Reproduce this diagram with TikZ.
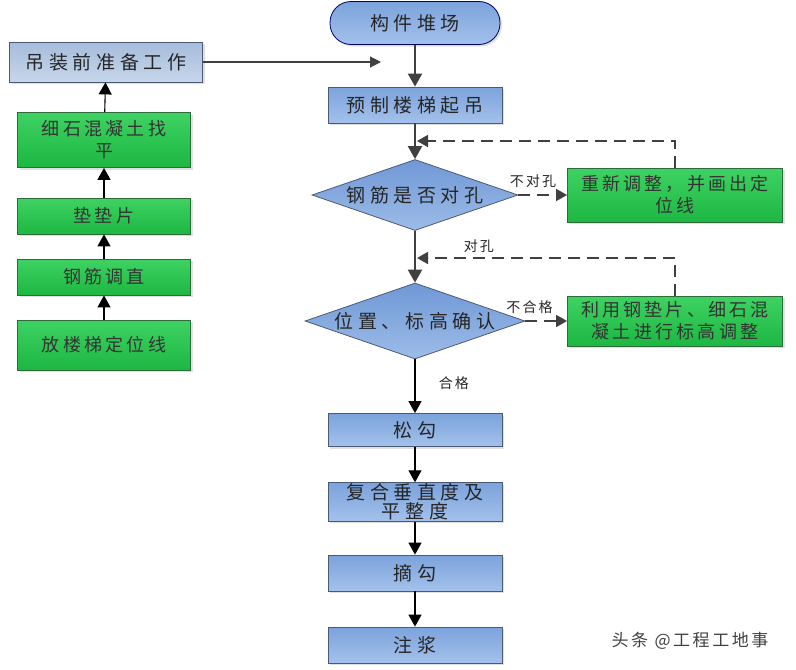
\documentclass[tikz,border=0pt]{standalone}
\usepackage{fontspec}
\newfontfamily\cjk[LetterSpace=24]{Noto Sans CJK SC}
\newfontfamily\cjkgreen[LetterSpace=18]{Noto Sans CJK SC}
\newfontfamily\cjklbl[LetterSpace=15]{Noto Sans CJK SC}
\usetikzlibrary{arrows.meta}
\usetikzlibrary{shapes.geometric}
\usetikzlibrary{shadows}

\definecolor{boxline}{HTML}{4A5A74}
\definecolor{greenline}{HTML}{2E6B3A}
\definecolor{flowgray}{HTML}{404040}
\definecolor{bluetop}{HTML}{7CA3DC}
\definecolor{bluebot}{HTML}{A3C1EB}
\definecolor{preptop}{HTML}{A6BCDB}
\definecolor{prepbot}{HTML}{C6D6EB}
\definecolor{diatop}{HTML}{6F98D6}
\definecolor{diabot}{HTML}{9DBCE8}
\definecolor{greentop}{HTML}{3ED262}
\definecolor{greenbot}{HTML}{1DB742}

\begin{document}
\begin{tikzpicture}
		[x=1pt, y=-1pt,
		 shade/.style={drop shadow={opacity=0.25, shadow xshift=2pt, shadow yshift=-2pt}},
		 bluebox/.style={rectangle, draw=boxline, thick, shade, top color=bluetop, bottom color=bluebot, minimum width=174, minimum height=36, inner sep=1pt, align=center, text=black!85, font=\cjk\fontsize{19}{20}\selectfont},
		 prepbox/.style={rectangle, draw=boxline, thick, shade, top color=preptop, bottom color=prepbot, minimum width=193, minimum height=40, text=black!85, font=\cjk\fontsize{19}{20}\selectfont},
		 greenbox/.style={rectangle, draw=greenline, thick, shade, top color=greentop, bottom color=greenbot, text=black!80, align=center, inner sep=1pt, font=\cjkgreen\fontsize{18}{22}\selectfont},
		 decide/.style={diamond, draw=boxline, thick, top color=diatop, bottom color=diabot, aspect=2.9, inner sep=0pt, text=black!85, font=\cjk\fontsize{19}{20}\selectfont},
		 flow/.style={draw=flowgray, line width=2pt, -{Triangle[length=13pt, width=14pt]}},
		 thin flow/.style={draw=black, line width=1.1pt, -{Triangle[length=12pt, width=13pt]}},
		 loop back/.style={draw=flowgray, line width=1.6pt, dash pattern=on 12pt off 7pt, -{Triangle[length=11pt, width=12pt]}},
		 lbl/.style={font=\cjklbl\fontsize{14}{16}\selectfont, text=black!85}]
		\useasboundingbox (0,0) rectangle (796,670);

		% main column
		\node[bluebox, rounded corners=21pt, draw=blue!40!black, minimum width=170, minimum height=43] (yard) at (415,23) {构件堆场};
		\node[bluebox] (lift) at (415,105) {预制楼梯起吊};
		\node[decide, minimum width=206, minimum height=71] (holes) at (415,195) {钢筋是否对孔};
		\node[decide, minimum width=220, minimum height=76] (level) at (415,321) {位置、标高确认};
		\node[bluebox, minimum height=33] (unhook) at (415,430) {松勾};
		\node[bluebox, minimum height=37, font=\cjk\fontsize{19}{19}\selectfont] (plumb) at (415,502) {复合垂直度及\\平整度};
		\node[bluebox] (remove) at (415,573) {摘勾};
		\node[bluebox] (grout) at (415,645) {注浆};

		% adjustment boxes
		\node[greenbox, minimum width=215, minimum height=54] (redo) at (675,195) {重新调整，并画出定\\位线};
		\node[greenbox, minimum width=215, minimum height=50] (shim) at (675,321) {利用钢垫片、细石混\\凝土进行标高调整};

		% preparation column
		\node[prepbox] (prep) at (106,62) {吊装前准备工作};
		\node[greenbox, minimum width=173, minimum height=55] (level bed) at (104,140) {细石混凝土找\\平};
		\node[greenbox, minimum width=173, minimum height=36] (pads) at (104,216) {垫垫片};
		\node[greenbox, minimum width=173, minimum height=36] (bars) at (104,277) {钢筋调直};
		\node[greenbox, minimum width=173, minimum height=50] (mark) at (104,345) {放楼梯定位线};

		\coordinate (prep end) at (381,62);
		\coordinate (back1) at (417,141);
		\coordinate (back2) at (417,258);

		\draw[thin flow] (mark) -- (bars);
		\draw[thin flow] (bars) -- (pads);
		\draw[thin flow] (pads) -- (level bed);
		\draw[thin flow] (level bed) -- (prep);
		\draw[draw=flowgray, line width=1.1pt, -{Triangle[length=11pt, width=11pt]}] (prep) -- (prep end);

		\draw[flow] (yard) -- (lift);
		\draw[flow] (lift) -- (holes);
		\draw[flow] (holes) -- (level);
		\draw[thin flow] (level) -- node[lbl, pos=0.45, right=20pt] {合格} (unhook);
		\draw[thin flow] (unhook) -- (plumb);
		\draw[thin flow] (plumb) -- (remove);
		\draw[thin flow] (remove) -- (grout);

		\draw[loop back] (holes.east) -- node[lbl, above=3pt, pos=0.3] {不对孔} (redo.west);
		\draw[loop back] (level.east) -- node[lbl, above=3pt, pos=0.1] {不合格} (shim.west);
		\draw[loop back] (redo.north) |- (back1);
		\draw[loop back] (shim.north) |- node[lbl, pos=0.88, above=1pt] {对孔} (back2);

		\node[font=\cjklbl\fontsize{17}{19}\selectfont, text=black!75] (mark wm) at (690,641) {头条 @工程工地事};
	\end{tikzpicture}
\end{document}
